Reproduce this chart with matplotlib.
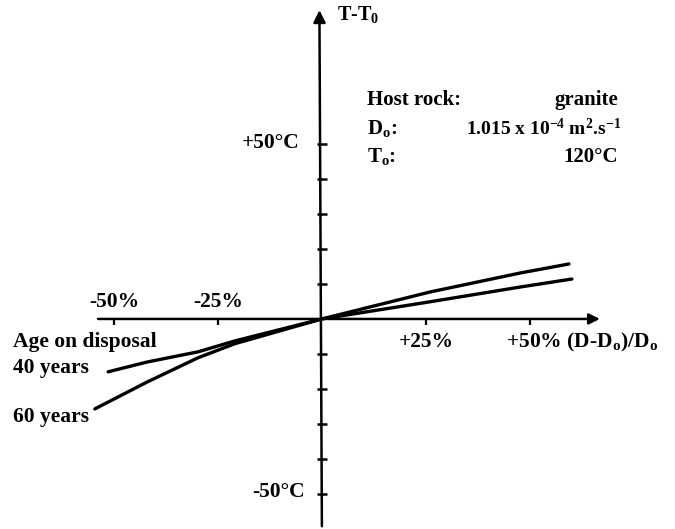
import numpy as np
import matplotlib
matplotlib.use('Agg')
import matplotlib.pyplot as plt

plt.rcParams['font.family'] = ['Liberation Serif', 'DejaVu Serif']
plt.rcParams['font.weight'] = 'bold'
plt.rcParams['mathtext.fontset'] = 'custom'
plt.rcParams['mathtext.rm'] = 'Liberation Serif'
plt.rcParams['mathtext.bf'] = 'Liberation Serif:bold'
plt.rcParams['mathtext.default'] = 'bf'

# Temperature change vs relative change of diffusivity
dD_60 = [-54.6, -42, -29.8, -21, 0, 26, 47.6, 59.4]   # (D-Do)/Do in %
dT_60 = [-25.7, -18, -11.1, -7.1, 0, 7.7, 13.1, 15.7]  # T-To in degC
dD_40 = [-51.4, -42, -29.8, -21, 0, 26, 47.6, 60.1]
dT_40 = [-15.1, -12.3, -9.4, -6.3, 0, 4.9, 9.1, 11.4]

x_ticks = [-50, -25, 25, 50]
x_tick_labels = ['-50%', '-25%', '+25%', '+50%']
y_ticks = [-50, -40, -30, -20, -10, 10, 20, 30, 40, 50]

fig = plt.figure(figsize=(6.75, 5.29), dpi=100)
ax = fig.add_axes([0, 0, 1, 1])
ax.set_xlim(-77.4, 84.9)
ax.set_ylim(-60.0, 91.1)
ax.axis('off')

# axes drawn through the origin
ax.annotate('', xy=(67.5, 0), xytext=(-54.5, 0),
            arrowprops=dict(arrowstyle='-|>', lw=1.8, color='black', mutation_scale=16))
ax.annotate('', xy=(-0.6, 89), xytext=(0, -60),
            arrowprops=dict(arrowstyle='-|>', lw=1.8, color='black', mutation_scale=18))

# tick marks
ax.plot(np.zeros(len(y_ticks)), y_ticks, linestyle='none', marker='_', ms=7, mew=1.8, c='black')
ax.plot(x_ticks, np.full(len(x_ticks), -0.8), linestyle='none', marker='|', ms=5, mew=1.6, c='black')

# curves
ax.plot(dD_60, dT_60, c='black', lw=2.4, solid_capstyle='round')
ax.plot(dD_40, dT_40, c='black', lw=2.4, solid_capstyle='round')

fs = 15.5
# tick labels
for xt, lab in zip(x_ticks, x_tick_labels):
    if xt < 0:
        ax.text(xt, 4.9, lab, ha='center', va='center', fontsize=fs)
    elif xt == 25:
        ax.text(xt, -6.6, lab, ha='center', va='center', fontsize=fs)
ax.text(44.2, -6.6, '+50% (D-D$_o$)/D$_o$', ha='left', va='center', fontsize=fs)
ax.text(-5.3, 50.3, '+50°C', ha='right', va='center', fontsize=fs)
ax.text(-4.2, -49.4, '-50°C', ha='right', va='center', fontsize=fs)
ax.text(3.6, 86.9, 'T-T$_0$', ha='left', va='center', fontsize=fs - 1)

# curve labels
ax.text(-74.3, -6.6, 'Age on disposal', ha='left', va='center', fontsize=fs)
ax.text(-74.3, -14.0, '40 years', ha='left', va='center', fontsize=fs)
ax.text(-74.3, -28.0, '60 years', ha='left', va='center', fontsize=fs)

# parameter box
ax.text(10.8, 62.6, 'Host rock:', ha='left', va='center', fontsize=fs - 0.5)
ax.text(71.2, 62.6, 'granite', ha='right', va='center', fontsize=fs - 0.5)
ax.text(10.8, 54.3, 'D$_o$:', ha='left', va='center', fontsize=fs - 0.5)
ax.text(72.0, 54.3, '1.015 x 10$^{-4}$ m$^2$.s$^{-1}$', ha='right', va='center', fontsize=fs - 1.5)
ax.text(10.8, 46.3, 'T$_o$:', ha='left', va='center', fontsize=fs - 0.5)
ax.text(71.2, 46.3, '120°C', ha='right', va='center', fontsize=fs - 0.5)

fig.savefig('out.png', dpi=100)
